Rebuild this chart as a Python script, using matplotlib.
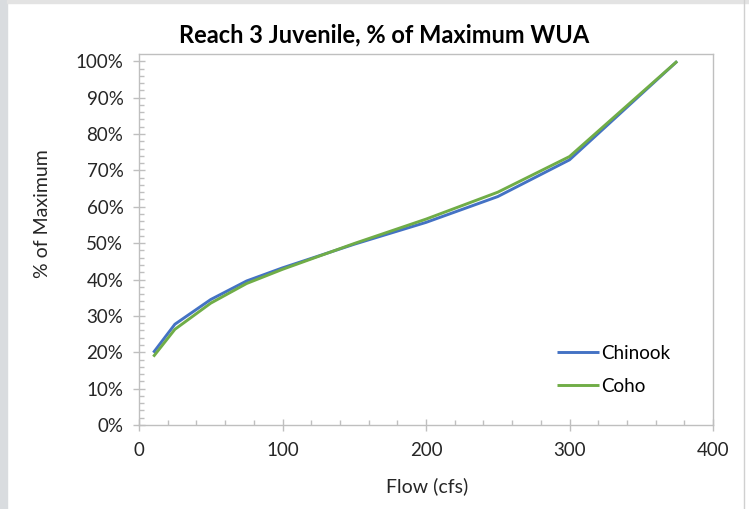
import matplotlib.pyplot as plt
import matplotlib.ticker as mticker
from matplotlib.lines import Line2D
from matplotlib.patches import Rectangle

flow = [10, 25, 50, 75, 100, 150, 200, 250, 300, 375]
chinook = [0.199, 0.277, 0.345, 0.396, 0.432, 0.497, 0.557, 0.628, 0.729, 1.0]
coho = [0.188, 0.263, 0.335, 0.389, 0.428, 0.499, 0.566, 0.640, 0.738, 1.0]
series_names = ["Chinook", "Coho"]
series_colors = ["#4472C4", "#70AD47"]

plt.rcParams['font.family'] = ['Lato', 'DejaVu Sans']

fig = plt.figure(figsize=(7.49, 5.09), dpi=100)

# grey window frame seen in the screenshot
fig.patches.append(Rectangle((0, 0), 7 / 749, 1, transform=fig.transFigure,
                             color="#d9dcdf", zorder=0))
fig.patches.append(Rectangle((7 / 749, 1 - 3 / 509), 1, 3 / 509, transform=fig.transFigure,
                             color="#e3e3e3", zorder=0))
fig.lines.append(Line2D([744 / 749, 744 / 749], [0, 1], transform=fig.transFigure,
                        color="#d0d0d0", lw=1))

ax = fig.add_axes([139 / 749, 1 - 425 / 509, (713 - 139) / 749, (425 - 54) / 509])

for vals, name, col in zip([chinook, coho], series_names, series_colors):
    ax.plot(flow, vals, color=col, lw=2.1, label=name, solid_capstyle='butt')

ax.set_xlim(0, 400)
ax.set_ylim(0, 1.02)
ax.xaxis.set_major_locator(mticker.MultipleLocator(100))
ax.xaxis.set_minor_locator(mticker.MultipleLocator(20))
ax.yaxis.set_major_locator(mticker.FixedLocator([i / 10 for i in range(11)]))
ax.yaxis.set_minor_locator(mticker.FixedLocator([i / 50 for i in range(51)]))
ax.yaxis.set_major_formatter(mticker.PercentFormatter(1.0, decimals=0))

for s in ax.spines.values():
    s.set_color("#bfbfbf")
    s.set_linewidth(1)

ax.tick_params(which='major', direction='inout', length=8.5, width=1, color="#bfbfbf",
               labelsize=13.5, labelcolor="#262626")
ax.tick_params(axis='y', which='major', pad=7)
ax.tick_params(axis='x', which='major', pad=8)
ax.tick_params(which='minor', direction='in', length=3.5, width=1, color="#bfbfbf")

fig.text(0.513, 0.931, "Reach 3 Juvenile, % of Maximum WUA", ha='center', va='center',
         fontsize=17, fontweight='bold', color="black")
fig.text(0.057, 0.58, "% of Maximum", rotation=90, ha='center', va='center',
         fontsize=14, color="#262626")
fig.text(427 / 749, 1 - 486 / 509, "Flow (cfs)", ha='center', va='center',
         fontsize=14, color="#262626")

ax.legend(loc='center', bbox_to_anchor=(614 / 749, 1 - 370 / 509),
          bbox_transform=fig.transFigure, frameon=False, fontsize=13.5,
          handlelength=2.2, handletextpad=0.15, labelspacing=0.85)

fig.savefig("out.png", dpi=100)
